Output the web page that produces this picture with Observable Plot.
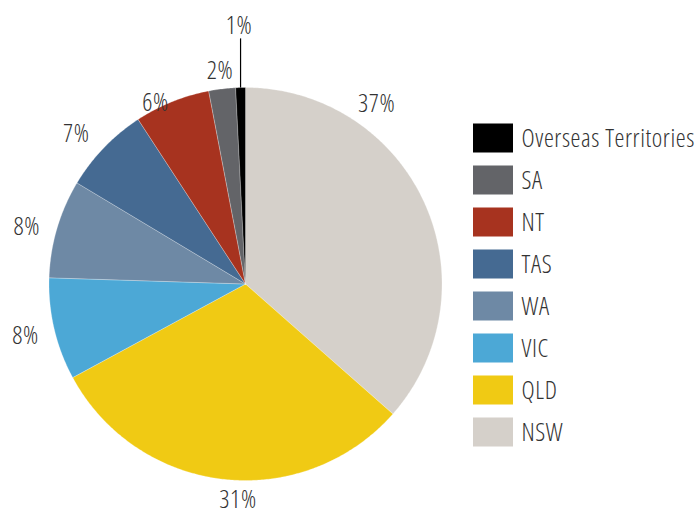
<!DOCTYPE html>
<html>
<head>
<meta charset="utf-8">
<script src="https://cdn.jsdelivr.net/npm/d3@7"></script>
<script src="https://cdn.jsdelivr.net/npm/@observablehq/plot@0.6"></script>
<style>
  html, body { margin: 0; padding: 0; background: #fff; }
  #chart { position: relative; width: 700px; height: 511px; overflow: hidden; }
  #legend { position: absolute; left: 460px; top: 110px; }
  #pie { position: absolute; left: 0; top: 0; }
  svg text { font-stretch: condensed; font-weight: 300; letter-spacing: 0.6px; }
</style>
</head>
<body>
<div id="chart"><div id="pie"></div><div id="legend"></div></div>
<script>
// ---- data (clockwise from 12 o'clock) ----
const categories = ["NSW", "QLD", "VIC", "WA", "TAS", "NT", "SA", "Overseas Territories"];
const shares = [36.5, 30.6, 8.4, 8.1, 7.2, 6.2, 2.2, 0.8];
const shareLabels = ["37%", "31%", "8%", "8%", "7%", "6%", "2%", "1%"];
const palette = ["#d5d0ca", "#f0ca14", "#4ca8d6", "#6e89a5", "#456a92", "#a7331f", "#636468", "#000000"];
const legendOrder = categories.slice().reverse();

// ---- layout config ----
const FONT = '"Open Sans", Roboto, sans-serif';
const FONT_SIZE = 25;
const TEXT = "#333333";
const labelRadius = 1.15;
const labelTweaks = { // label placement hints (angle in degrees, radius in pie units)
  "NSW": { angle: 36, r: 1.135 },
  "QLD": { angle: 182, r: 1.098 },
  "WA": { angle: 284.6 },
  "TAS": { angle: 311.5 },
  "NT": { angle: 333.6, r: 1.03 },
  "SA": { r: 1.09 },
  "Overseas Territories": { r: 1.315 }
};

const color = { domain: categories, range: palette };

// ---- pie geometry via d3.pie ----
const arcs = d3.pie().sort(null).value(d => d)(shares);
const slicePts = [];
arcs.forEach((a, i) => {
  const cat = categories[i];
  slicePts.push({ cat, x: 0, y: 0 });
  const n = Math.max(4, Math.ceil((a.endAngle - a.startAngle) / (Math.PI / 360)));
  for (let k = 0; k <= n; k++) {
    const t = a.startAngle + (a.endAngle - a.startAngle) * k / n;
    slicePts.push({ cat, x: Math.sin(t), y: Math.cos(t) });
  }
  slicePts.push({ cat, x: 0, y: 0 });
});

const labelData = arcs.map((a, i) => {
  const cat = categories[i];
  const tw = labelTweaks[cat] || {};
  const ang = tw.angle != null ? tw.angle * Math.PI / 180 : (a.startAngle + a.endAngle) / 2;
  const r = tw.r != null ? tw.r : labelRadius;
  return { cat, text: shareLabels[i], x: r * Math.sin(ang), y: r * Math.cos(ang), mid: (a.startAngle + a.endAngle) / 2 };
});

// leader line for the smallest slice
const small = labelData[labelData.length - 1];
const leader = [{ x1: Math.sin(small.mid), y1: Math.cos(small.mid), x2: Math.sin(small.mid), y2: 1.25 }];

const pie = Plot.plot({
  width: 700,
  height: 511,
  margin: 0,
  x: { domain: [-1, 1], range: [48.5, 441.5], axis: null },
  y: { domain: [-1, 1], range: [480, 87], axis: null },
  color,
  style: { fontFamily: FONT, background: "transparent" },
  marks: [
    Plot.line(slicePts, { x: "x", y: "y", z: "cat", fill: "cat", stroke: "#ffffff", strokeWidth: 0.5, strokeOpacity: 0.5, curve: "linear" }),
    Plot.link(leader, { x1: "x1", y1: "y1", x2: "x2", y2: "y2", stroke: "#000", strokeWidth: 1.2 }),
    Plot.text(labelData, { x: "x", y: "y", text: "text", fontSize: FONT_SIZE, fill: TEXT, textAnchor: "middle" })
  ]
});
document.getElementById("pie").appendChild(pie);

const legend = Plot.plot({
  width: 240,
  height: 350,
  margin: 0,
  x: { domain: [0, 1], range: [13, 53], axis: null },
  y: { type: "band", domain: legendOrder, range: [7, 343.3], padding: 0, axis: null },
  color,
  style: { fontFamily: FONT, background: "transparent" },
  marks: [
    Plot.barX(legendOrder, { x1: 0, x2: 1, y: d => d, fill: d => d, insetTop: 6.5, insetBottom: 6.5 }),
    Plot.text(legendOrder, { x: 1, y: d => d, text: d => d, textAnchor: "start", dx: 8, fontSize: FONT_SIZE, fill: TEXT })
  ]
});
document.getElementById("legend").appendChild(legend);
</script>
</body>
</html>
